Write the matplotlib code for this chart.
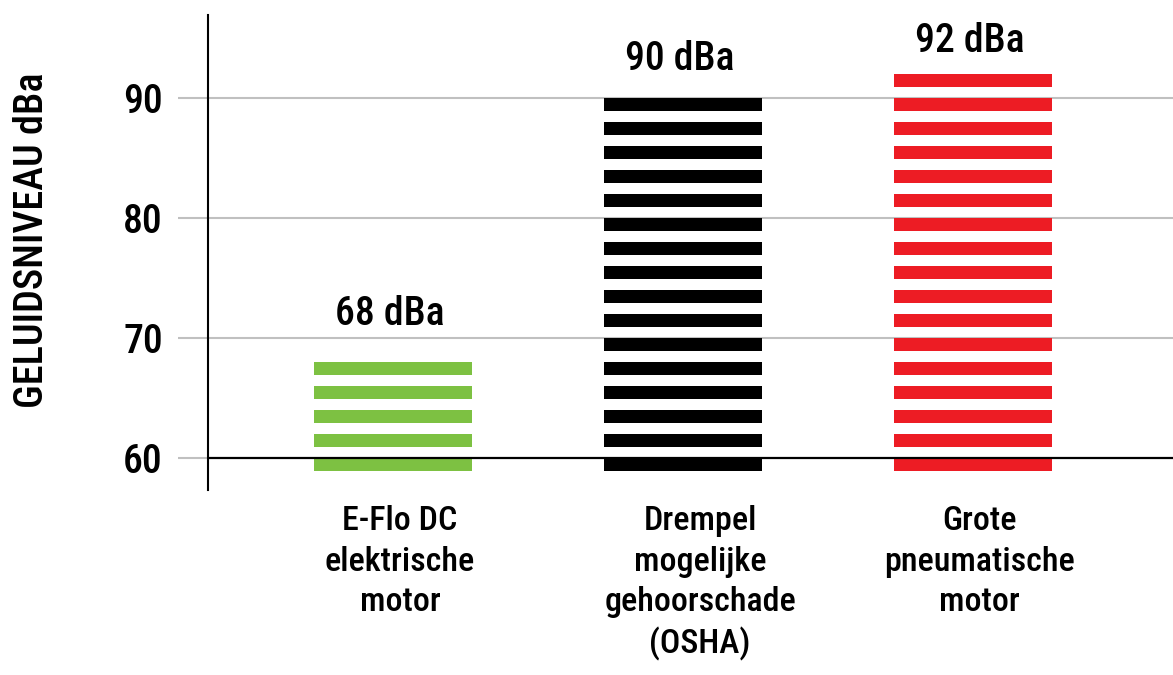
import numpy as np
import matplotlib.pyplot as plt
from matplotlib import font_manager

categories = ['E-Flo DC\nelektrische\nmotor',
              'Drempel\nmogelijke\ngehoorschade\n(OSHA)',
              'Grote\npneumatische\nmotor']
values = [68, 90, 92]
value_labels = ['68 dBa', '90 dBa', '92 dBa']
colors = ['#7DC142', '#000000', '#ED1C24']
yticks = [60, 70, 80, 90]

# pick a narrow sans if there is one
installed = {f.name for f in font_manager.fontManager.ttflist}
wanted = ['Roboto Condensed', 'Liberation Sans Narrow', 'DejaVu Sans Condensed',
          'Open Sans Condensed', 'Roboto', 'DejaVu Sans']
family = next(f for f in wanted if f in installed)
plt.rcParams['font.family'] = [family, 'DejaVu Sans']
plt.rcParams['font.weight'] = 'medium'

fig = plt.figure(figsize=(11.73, 6.75), dpi=100)
ax = fig.add_axes([208 / 1173, 1 - 490 / 675, 1 - 208 / 1173, 475 / 675])

x = np.arange(len(values))
base = 59
stripe = 1.05
width = 0.545

# each bar is a stack of thin stripes, one every 2 dBa
for xi, v, c in zip(x, values, colors):
    tops = np.arange(v, base, -2.0)
    ax.bar(np.full(len(tops), xi), np.full(len(tops), stripe), bottom=tops - stripe,
           width=width, color=c, zorder=3, linewidth=0)

label_offsets = [3.1, 2.35, 1.85]
for xi, v, t, off in zip(x, values, value_labels, label_offsets):
    ax.text(xi - 0.01, v + off, t, ha='center', va='baseline', fontsize=28.5)

ax.set_xlim(-0.638, 2.69)
ax.set_ylim(57.33, 96.92)

ax.set_yticks(yticks)
ax.set_yticklabels([str(t) for t in yticks], fontsize=28.5)
ax.tick_params(axis='y', length=21.6, width=1.5, colors='#c0c0c0', labelcolor='black', pad=11)
ax.yaxis.get_major_ticks()[0].tick1line.set_color('black')
for t in yticks[1:]:
    ax.axhline(t, color='#c0c0c0', lw=1.5, zorder=1)
ax.axhline(60, color='black', lw=1.6, zorder=4)

label_shift = [0.024, 0.059, 0.021]
ax.set_xticks(x + np.array(label_shift))
ax.set_xticklabels(categories, fontsize=24.5, linespacing=1.33)
ax.tick_params(axis='x', length=0, pad=11)

for s in ['top', 'right', 'bottom']:
    ax.spines[s].set_visible(False)
ax.spines['left'].set_linewidth(1.5)

fig.text(32 / 1173, 1 - 240 / 675, 'GELUIDSNIVEAU dBa', rotation=90,
         ha='center', va='center', fontsize=29)

fig.savefig('out.png', dpi=100)
